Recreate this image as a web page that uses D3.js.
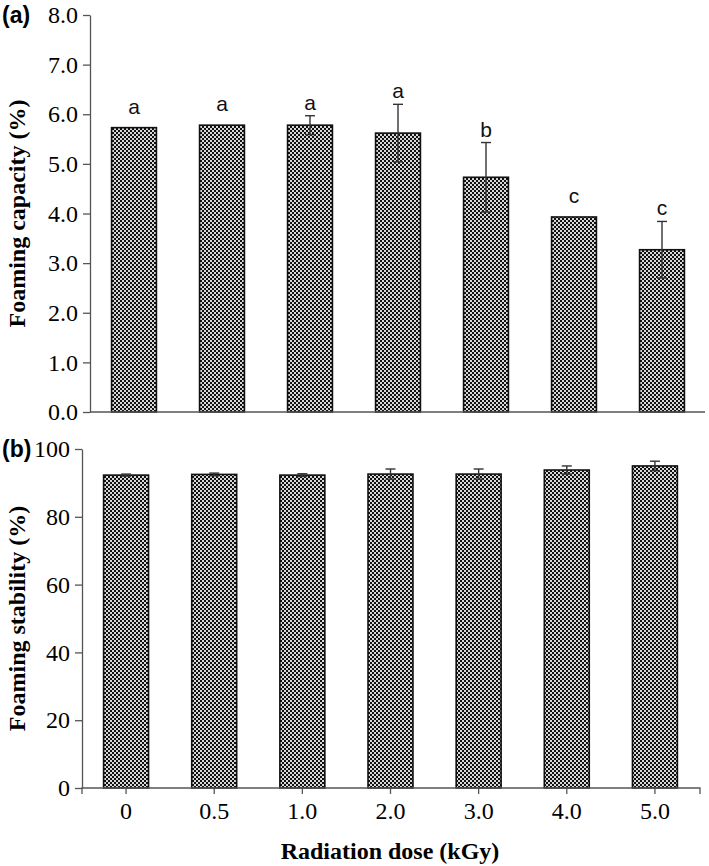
<!DOCTYPE html>
<html><head><meta charset="utf-8">
<script src="https://cdn.jsdelivr.net/npm/d3@7"></script>
<style>body{margin:0;background:#fff}</style>
</head><body>
<script>
const doses = ["0","0.5","1.0","2.0","3.0","4.0","5.0"];
const capacity = [5.73, 5.78, 5.78, 5.62, 4.73, 3.93, 3.27];
const capacityErr = [0, 0, 0.19, 0.58, 0.70, 0, 0.57];
const capacityLetters = ["a","a","a","a","b","c","c"];
const capTicks = [0,1,2,3,4,5,6,7,8];
const stability = [92.3, 92.5, 92.3, 92.6, 92.6, 93.8, 95.0];
const stabilityErr = [0.3, 0.4, 0.4, 1.5, 1.5, 1.2, 1.4];
const stabTicks = [0,20,40,60,80,100];

const W=709,H=866;
const svg=d3.select("body").append("svg").attr("width",W).attr("height",H);
const defs=svg.append("defs");
const pat=defs.append("pattern").attr("id","chk").attr("patternUnits","userSpaceOnUse").attr("width",4).attr("height",4);
pat.append("rect").attr("width",4).attr("height",4).attr("fill","#d8d8d8");
pat.append("rect").attr("width",2).attr("height",2).attr("fill","#111");
pat.append("rect").attr("x",2).attr("y",2).attr("width",2).attr("height",2).attr("fill","#111");

const serif="'Liberation Serif','Times New Roman',serif";
const sans="'Liberation Sans',Arial,sans-serif";

function panel(opt){
  const x=d3.scaleBand().domain(doses).range([opt.x0,opt.x1]).paddingInner(0.49).paddingOuter(0.245);
  const y=d3.scaleLinear().domain([0,opt.max]).range([opt.yb,opt.yt]);
  const g=svg.append("g");
  const ya=g.append("g").attr("transform",`translate(${opt.x0},0)`)
    .call(d3.axisLeft(y).tickValues(opt.ticks).tickFormat(opt.fmt).tickSize(7).tickSizeOuter(0).tickPadding(5));
  ya.selectAll("text").attr("font-family",serif).attr("font-size",24).attr("fill","#000");
  ya.selectAll("line,path").attr("stroke","#555").attr("stroke-width",1.3);
  g.selectAll("rect.bar").data(opt.vals).join("rect").attr("class","bar")
    .attr("x",(d,i)=>x(doses[i])).attr("width",x.bandwidth())
    .attr("y",d=>y(d)).attr("height",d=>y(0)-y(d))
    .attr("fill","url(#chk)").attr("stroke","#111").attr("stroke-width",1.6);
  const xa=g.append("g").attr("transform",`translate(0,${opt.yb})`)
    .call(d3.axisBottom(x).tickSize(opt.showX?6:0).tickSizeOuter(opt.showX?6:0).tickPadding(8));
  xa.select("path.domain").attr("d",`M${opt.x0},${opt.showX?6:0}V0H${opt.xend}V${opt.showX?6:0}`);
  xa.selectAll("line,path").attr("stroke","#555").attr("stroke-width",1.3);
  xa.selectAll("text").attr("font-family",serif).attr("font-size",24).attr("fill","#000")
    .style("display",opt.showX?null:"none");
  opt.vals.forEach((v,i)=>{
    const e=opt.err[i]; if(!e) return;
    const cx=x(doses[i])+x.bandwidth()/2;
    g.append("line").attr("x1",cx).attr("x2",cx).attr("y1",y(v-e)).attr("y2",y(v+e)).attr("stroke","#333").attr("stroke-width",1.4);
    [v-e,v+e].forEach(t=>g.append("line").attr("x1",cx-5).attr("x2",cx+5).attr("y1",y(t)).attr("y2",y(t)).attr("stroke","#333").attr("stroke-width",1.4));
  });
  if(opt.letters){
    opt.vals.forEach((v,i)=>{
      const e=opt.err[i];
      const cx=x(doses[i])+x.bandwidth()/2;
      g.append("text").attr("x",cx).attr("y",y(v+e)-(e?6:14)).attr("text-anchor","middle")
        .attr("font-family",sans).attr("font-size",21).attr("fill","#111").text(opt.letters[i]);
    });
  }
  g.append("text").attr("transform",`translate(25,${(opt.yt+opt.yb)/2}) rotate(-90)`).attr("text-anchor","middle")
    .attr("font-family",serif).attr("font-weight","bold").attr("font-size",24).text(opt.title);
  g.append("text").attr("x",2).attr("y",opt.yt+8).attr("font-family",sans).attr("font-weight","bold").attr("font-size",23).text(opt.tag);
}

panel({x0:90,x1:706,xend:705,yt:15,yb:412,max:8,ticks:capTicks,fmt:d3.format(".1f"),vals:capacity,err:capacityErr,
  letters:capacityLetters,showX:false,title:"Foaming capacity (%)",tag:"(a)"});
panel({x0:82,x1:699,xend:700,yt:449,yb:788,max:100,ticks:stabTicks,fmt:d3.format("d"),vals:stability,err:stabilityErr,
  letters:null,showX:true,title:"Foaming stability (%)",tag:"(b)"});

svg.append("text").attr("x",390).attr("y",859).attr("text-anchor","middle")
  .attr("font-family",serif).attr("font-weight","bold").attr("font-size",24).text("Radiation dose (kGy)");
</script>
</body></html>
